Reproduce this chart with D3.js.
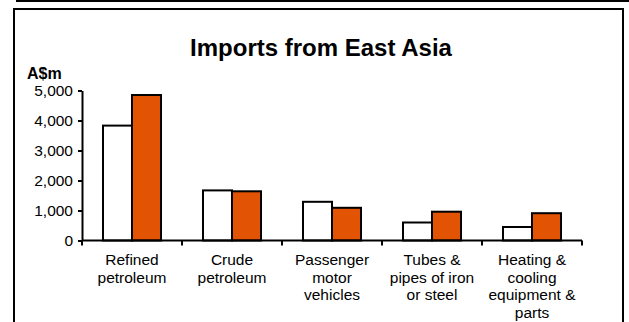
<!DOCTYPE html>
<html>
<head>
<meta charset="utf-8">
<script src="https://cdn.jsdelivr.net/npm/d3@7"></script>
<style>
  body { margin: 0; background: #fff; }
  svg { display: block; font-family: Arial, "Liberation Sans", sans-serif; }
</style>
</head>
<body>
<div id="chart"></div>
<script>
var width = 629
var height = 322

// data
var categories = ["Refined petroleum", "Crude petroleum", "Passenger motor vehicles", "Tubes & pipes of iron or steel", "Heating & cooling equipment & parts"]
var categoryLines = [
    ["Refined", "petroleum"],
    ["Crude", "petroleum"],
    ["Passenger", "motor", "vehicles"],
    ["Tubes &", "pipes of iron", "or steel"],
    ["Heating &", "cooling", "equipment &", "parts"]
]
var seriesNames = ["earlier", "later"]
var earlierValues = [3830, 1670, 1290, 600, 450]
var laterValues = [4850, 1640, 1090, 960, 910]
var yTicks = [0, 1000, 2000, 3000, 4000, 5000]
var colors = ["#ffffff", "#e25303"]

var margins = { left: 82, right: 47, top: 90.5, bottom: 81.5 }

var svg = d3.select("#chart").append("svg").attr("width", width).attr("height", height)

// frame
svg.append("line")
    .attr("x1", 16).attr("x2", width).attr("y1", 1).attr("y2", 1)
    .attr("stroke", "#000").attr("stroke-width", 2)
svg.append("rect")
    .attr("x", 14).attr("y", 9).attr("width", 609).attr("height", 330)
    .attr("fill", "none").attr("stroke", "#000").attr("stroke-width", 2)

var x0 = d3.scaleBand()
    .domain(categories)
    .range([margins.left, width - margins.right])
    .paddingInner(0.42)
    .paddingOuter(0.21)

var x1 = d3.scaleBand()
    .domain(seriesNames)
    .range([0, x0.bandwidth()])

var y = d3.scaleLinear()
    .domain([0, 5000])
    .range([height - margins.bottom, margins.top])

var rows = categories.map((c, i) => ({ cat: c, values: [earlierValues[i], laterValues[i]] }))

var groups = svg.selectAll(".group")
    .data(rows)
    .enter()
    .append("g")
    .attr("class", "group")
    .attr("transform", d => "translate(" + x0(d.cat) + ",0)")

groups.selectAll("rect")
    .data(d => d.values.map((v, j) => ({ key: seriesNames[j], value: v, j: j })))
    .enter()
    .append("rect")
    .attr("x", d => x1(d.key))
    .attr("y", d => y(d.value))
    .attr("width", x1.bandwidth())
    .attr("height", d => y(0) - y(d.value))
    .attr("fill", d => colors[d.j])
    .attr("stroke", "#000")
    .attr("stroke-width", 2)

// y axis
var yAxis = svg.append("g")
    .attr("transform", "translate(" + margins.left + ",0)")
    .call(d3.axisLeft(y).tickValues(yTicks).tickFormat(d3.format(",")).tickSize(4).tickSizeOuter(0))
yAxis.select(".domain").attr("stroke-width", 2)
yAxis.selectAll(".tick line").attr("stroke-width", 2)
yAxis.selectAll(".tick text")
    .attr("font-size", 15.5).attr("fill", "#000")
    .attr("font-family", "Arial, 'Liberation Sans', sans-serif")
    .attr("x", -9)

// x axis with ticks at category boundaries
var step = x0.step()
var boundaries = d3.range(categories.length + 1).map(i => margins.left + i * step)
var base = y(0)
svg.append("line")
    .attr("x1", margins.left).attr("x2", boundaries[boundaries.length - 1])
    .attr("y1", base).attr("y2", base)
    .attr("stroke", "#000").attr("stroke-width", 2)
svg.selectAll(".xtick")
    .data(boundaries)
    .enter()
    .append("line")
    .attr("class", "xtick")
    .attr("x1", d => d).attr("x2", d => d)
    .attr("y1", base).attr("y2", base + 5)
    .attr("stroke", "#000").attr("stroke-width", 2)

var labels = svg.selectAll(".xlabel")
    .data(rows)
    .enter()
    .append("text")
    .attr("class", "xlabel")
    .attr("text-anchor", "middle")
    .attr("font-size", 15.5)
    .attr("x", d => x0(d.cat) + x0.bandwidth() / 2)
    .attr("y", 265)
labels.selectAll("tspan")
    .data((d, i) => categoryLines[i])
    .enter()
    .append("tspan")
    .attr("x", function() { return this.parentNode.getAttribute("x") })
    .attr("dy", (d, i) => i == 0 ? 0 : 17.5)
    .text(d => d)

// titles
svg.append("text")
    .attr("x", 321).attr("y", 56)
    .attr("text-anchor", "middle")
    .attr("font-size", 24).attr("font-weight", "bold")
    .text("Imports from East Asia")

svg.append("text")
    .attr("x", 27).attr("y", 79)
    .attr("font-size", 16).attr("font-weight", "bold")
    .text("A$m")
</script>
</body>
</html>
